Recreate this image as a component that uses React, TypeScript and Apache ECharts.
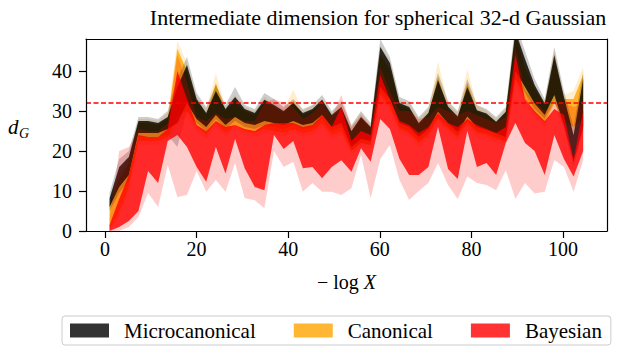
import React, { useEffect, useRef } from "react";
import * as echarts from "echarts";

const FONT = '"Liberation Serif", "DejaVu Serif", serif';

// -log X positions of the samples
const xValues = [1.0, 3.1, 5.2, 7.3, 9.4, 11.6, 13.7, 15.8, 17.9, 20.0, 22.1, 24.2, 26.3, 28.4, 30.5, 32.7, 34.8, 36.9, 39.0, 41.1, 43.2, 45.3, 47.4, 49.5, 51.6, 53.8, 55.9, 58.0, 60.1, 62.2, 64.3, 66.4, 68.5, 70.6, 72.7, 74.9, 77.0, 79.1, 81.2, 83.3, 85.4, 87.5, 89.6, 91.7, 93.8, 96.0, 98.1, 100.2, 102.3, 104.4];

// Microcanonical: inner band (lo/hi) and outer band (lo2/hi2)
const microLo = [6, 11, 14, 24.5, 24.5, 24.5, 25.5, 27, 32, 28, 26, 29, 26.5, 28.5, 27, 26.5, 27.5, 27, 26.5, 27.5, 26.5, 27, 29, 26, 27, 21, 23, 22.5, 36, 33, 27, 26, 23.5, 25.5, 29.8, 26.9, 24.8, 28.6, 26, 25.3, 24.4, 23.5, 40, 36, 31.9, 29, 34, 26.5, 17.3, 26];
const microHi = [8.2, 16, 18.5, 27.5, 27.5, 27, 28.5, 36, 41.5, 33, 29.5, 35, 30.5, 33.5, 30.5, 29.5, 32.8, 31.5, 30, 32, 29.5, 30.5, 32.8, 29, 31, 25, 28.5, 26, 46, 42, 32, 31, 27, 29.5, 37.7, 31.1, 28.6, 36, 30.2, 29.4, 27.3, 29.8, 50, 43, 36.5, 31.9, 44, 33.5, 24, 38];
const microLo2 = [5, 9.5, 12.5, 23.5, 23.5, 23.5, 24, 21, 30, 27, 25, 28, 25.5, 27.5, 26, 25.5, 26.5, 26, 25.5, 26.5, 25.5, 26, 28, 25, 26, 20, 22, 21.5, 34.5, 32, 26, 25, 22.5, 24.5, 28.5, 26, 24, 27.5, 25, 24.5, 23.5, 22.5, 38, 34.5, 30.5, 28, 32.5, 25.5, 16, 25];
const microHi2 = [9.5, 18, 20, 28.5, 28.5, 28, 30, 38, 43.5, 34.5, 31, 36.5, 31.5, 36, 31.5, 30.5, 34.5, 33, 31, 33, 30.5, 31.5, 34, 30, 32.5, 26.5, 30, 27, 48, 43.5, 33.5, 32.5, 28.5, 31, 39.5, 32.5, 30, 38, 31.5, 30.5, 28.5, 31, 52, 45, 38, 33, 46, 35, 26, 40];

// Canonical
const canonLo = [0.5, 5, 11, 22.5, 22.5, 22.5, 23.5, 29, 30, 26, 24, 27, 24.5, 26.5, 25, 24.5, 25.5, 25, 24.5, 25.5, 24.5, 25, 27, 24, 25, 20, 22, 21.5, 34, 31, 25.5, 24.5, 22, 24, 28, 25.5, 23.5, 27, 24.5, 24, 23, 22.5, 38, 33, 29.5, 27, 32, 27.5, 26, 28];
const canonHi = [7, 13, 17, 27, 27, 26.5, 28, 45.5, 40, 32.5, 29, 37, 30, 32.5, 30, 29, 32, 31, 29.5, 32.5, 29, 30, 32, 28.5, 30.5, 24.5, 28, 25.5, 44, 40.5, 31.5, 30.5, 26.5, 29, 38.5, 30.5, 28, 37, 30, 29, 27, 29.5, 49, 41, 35.5, 31.5, 43, 33, 33, 39];
const canonLo2 = [0, 3.5, 9.5, 21.5, 21.5, 21.5, 22.5, 27, 28.5, 25, 23, 26, 23.5, 25.5, 24, 23.5, 24.5, 24, 23.5, 24.5, 23.5, 24, 26, 23, 24, 19, 21, 20.5, 33, 30, 24.5, 23.5, 21, 23, 27, 24.5, 22.5, 26, 23.5, 23, 22, 21.5, 36, 31.5, 28.5, 26, 30, 26.5, 24.5, 26.5];
const canonHi2 = [8, 14.5, 18.5, 28, 28, 27.5, 29.5, 47.5, 42, 33.5, 30.5, 39.5, 31, 34, 31, 30, 33.5, 32, 30.5, 35.3, 30, 31.5, 33, 29.5, 32, 26, 29.5, 26.5, 46.5, 42.5, 32.5, 32, 28, 30.5, 42.3, 32, 29.5, 40.5, 31.5, 30, 28, 30.5, 51, 43, 36.5, 32.5, 45, 34, 35, 41];

// Bayesian
const bayesLo = [0, 1, 2.5, 5, 15, 12, 22.5, 24, 21, 16, 12.3, 21, 14.4, 23, 15.7, 11, 10.2, 24, 20.5, 22.5, 15.7, 16, 13.2, 16, 17.7, 14.8, 20.7, 17.3, 28, 25.5, 18, 14, 14, 16, 26, 15.5, 13, 25, 16, 17, 14, 22, 27, 22, 20, 14, 24, 18, 13.6, 20];
const bayesHi = [1.5, 8, 14, 24, 23.5, 23.5, 25.5, 40, 33, 26.5, 25, 27.5, 26, 26.5, 25.5, 25, 26.5, 27, 27, 27, 26, 26.5, 29, 26, 31, 22.5, 25, 24, 39, 33, 27.5, 26.5, 24.5, 26, 29.5, 27, 26, 28, 26.5, 25.5, 24.5, 26, 44, 33, 30, 27.5, 30.5, 29, 18, 30];
const bayesLo2 = [0, 0, 1, 3.5, 9.5, 6, 16.5, 8.5, 9, 15, 9.8, 12.75, 9.8, 17, 8.2, 7.7, 5.7, 20, 16, 17.3, 9.8, 12, 9.8, 9.8, 9, 10.7, 19, 8.2, 18, 21.5, 12.75, 7.75, 10, 12, 17, 11.5, 8, 13.6, 12, 11.5, 10.2, 15.2, 8, 12, 9.4, 9.8, 17.75, 16, 9.8, 17.75];
const bayesHi2 = [3, 20, 21, 25.5, 25, 25, 27, 44, 37, 28.5, 27.5, 29.5, 28, 28.5, 27.5, 27.5, 32, 33, 32, 31, 28, 29.5, 32, 28.5, 34, 26, 29, 26, 41, 35, 30, 30, 28, 28.5, 31, 30, 29, 30, 29, 28, 27, 28.5, 46, 35, 32.5, 30, 32, 32, 31, 32];

const trueDimension = 32;
const xTicks = [0, 20, 40, 60, 80, 100];
const yTicks = [0, 10, 20, 30, 40];
const X_MIN = -4.15;
const X_MAX = 109.6;
const Y_MIN = 0;
const Y_MAX = 48;

const legendNames = ["Microcanonical", "Canonical", "Bayesian"];
const COLORS = {
  micro: "rgba(0,0,0,0.8)",
  microLight: "rgba(0,0,0,0.2)",
  canon: "rgba(255,165,0,0.8)",
  canonLight: "rgba(255,165,0,0.2)",
  bayes: "rgba(255,0,0,0.8)",
  bayesLight: "rgba(255,0,0,0.2)",
};

function band(name: string, lo: number[], hi: number[], color: string) {
  return {
    type: "custom",
    name,
    clip: true,
    silent: true,
    itemStyle: { color },
    data: xValues.map((x, i) => [x, lo[i], hi[i]]),
    encode: { x: 0, y: [1, 2] },
    renderItem: (params: any, api: any) => {
      if (params.dataIndexInside !== 0) return null;
      const upper = xValues.map((x, i) => api.coord([x, hi[i]]));
      const lower = xValues.map((x, i) => api.coord([x, lo[i]])).reverse();
      return {
        type: "polygon",
        shape: { points: upper.concat(lower) },
        style: { fill: color, stroke: null, lineWidth: 0 },
      };
    },
  };
}

export default function App() {
  const ref = useRef<HTMLDivElement>(null);
  useEffect(() => {
    const chart = echarts.init(ref.current!, null, { renderer: "svg" });
    const axisLineStyle = { color: "#000", width: 1.2 };
    const option: any = {
      animation: false,
      backgroundColor: "#fff",
      textStyle: { fontFamily: FONT },
      grid: { left: 86, right: 17, top: 39, bottom: 118, show: false },
      graphic: [
        {
          type: "text",
          x: 378,
          y: 17,
          style: {
            text: "Intermediate dimension for spherical 32-d Gaussian",
            font: `22px ${FONT}`,
            fill: "#000",
            textAlign: "center",
            textVerticalAlign: "middle",
          },
        },
        {
          type: "text",
          x: 8,
          y: 127,
          style: {
            text: "d",
            font: `italic 21px ${FONT}`,
            fill: "#000",
            textVerticalAlign: "middle",
          },
        },
        {
          type: "text",
          x: 19,
          y: 133,
          style: {
            text: "G",
            font: `italic 14px ${FONT}`,
            fill: "#000",
            textVerticalAlign: "middle",
          },
        },
      ],
      legend: {
        data: [
          { name: legendNames[0], itemStyle: { color: COLORS.micro } },
          { name: legendNames[1], itemStyle: { color: COLORS.canon } },
          { name: legendNames[2], itemStyle: { color: COLORS.bayes } },
        ],
        left: 62,
        top: 316,
        icon: "rect",
        itemWidth: 39,
        itemHeight: 14,
        itemGap: 38,
        padding: [4, 9, 4, 8],
        borderColor: "#cccccc",
        borderWidth: 1,
        borderRadius: 3,
        backgroundColor: "#fff",
        textStyle: { fontFamily: FONT, fontSize: 21, color: "#000", padding: [0, 0, 0, 10] },
        selectedMode: false,
      },
      xAxis: [
        {
          type: "value",
          min: X_MIN,
          max: X_MAX,
          position: "bottom",
          z: 10,
          axisLine: { show: true, onZero: false, lineStyle: axisLineStyle },
          axisTick: { show: true, inside: false, length: 7, lineStyle: { color: "#000", width: 1.2 }, customValues: xTicks },
          axisLabel: { show: true, margin: 8, fontFamily: FONT, fontSize: 20, color: "#000", customValues: xTicks },
          splitLine: { show: false },
          name: "{n|− log }{i|X}",
          nameLocation: "middle",
          nameGap: 41,
          nameTextStyle: {
            rich: {
              n: { fontFamily: FONT, fontSize: 20, color: "#000" },
              i: { fontFamily: FONT, fontSize: 20, fontStyle: "italic", color: "#000" },
            },
          },
        },
        {
          type: "value",
          min: X_MIN,
          max: X_MAX,
          position: "top",
          z: 10,
          axisLine: { show: true, onZero: false, lineStyle: axisLineStyle },
          axisTick: { show: false },
          axisLabel: { show: false },
          splitLine: { show: false },
        },
      ],
      yAxis: [
        {
          type: "value",
          min: Y_MIN,
          max: Y_MAX,
          position: "left",
          z: 10,
          axisLine: { show: true, onZero: false, lineStyle: axisLineStyle },
          axisTick: { show: true, inside: false, length: 7, lineStyle: { color: "#000", width: 1.2 }, customValues: yTicks },
          axisLabel: { show: true, margin: 14, fontFamily: FONT, fontSize: 20, color: "#000", customValues: yTicks },
          splitLine: { show: false },
        },
        {
          type: "value",
          min: Y_MIN,
          max: Y_MAX,
          position: "right",
          z: 10,
          axisLine: { show: true, onZero: false, lineStyle: axisLineStyle },
          axisTick: { show: false },
          axisLabel: { show: false },
          splitLine: { show: false },
        },
      ],
      series: [
        band("Canonical (outer)", canonLo2, canonHi2, COLORS.canonLight),
        band(legendNames[1], canonLo, canonHi, COLORS.canon),
        band("Microcanonical (outer)", microLo2, microHi2, COLORS.microLight),
        band(legendNames[0], microLo, microHi, COLORS.micro),
        band("Bayesian (outer)", bayesLo2, bayesHi2, COLORS.bayesLight),
        band(legendNames[2], bayesLo, bayesHi, COLORS.bayes),
        {
          type: "line",
          name: "true dimension",
          data: [
            [X_MIN, trueDimension],
            [X_MAX, trueDimension],
          ],
          symbol: "none",
          silent: true,
          z: 5,
          lineStyle: { color: "#ff0000", width: 1.4, type: [5, 2.5] },
        },
      ],
    };
    chart.setOption(option);
    return () => chart.dispose();
  }, []);
  return (
    <div
      ref={ref}
      style={{ position: "fixed", left: 0, top: 0, width: 624, height: 349, background: "#fff" }}
    />
  );
}
